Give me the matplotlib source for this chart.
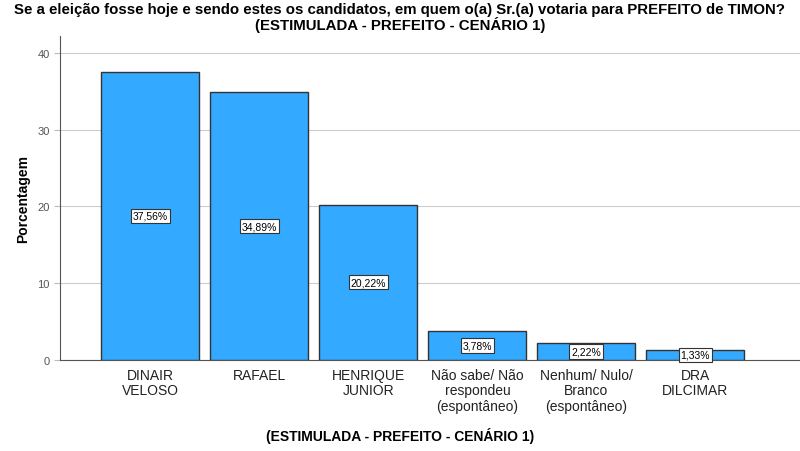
import numpy as np
import matplotlib
matplotlib.use('Agg')
import matplotlib.pyplot as plt

categories = ['DINAIR\nVELOSO', 'RAFAEL', 'HENRIQUE\nJUNIOR',
              'Não sabe/ Não\nrespondeu\n(espontâneo)',
              'Nenhum/ Nulo/\nBranco\n(espontâneo)', 'DRA\nDILCIMAR']
values = [37.56, 34.89, 20.22, 3.78, 2.22, 1.33]
labels = ['37,56%', '34,89%', '20,22%', '3,78%', '2,22%', '1,33%']
yticks = [0, 10, 20, 30, 40]

plt.rcParams['font.family'] = ['Liberation Sans', 'DejaVu Sans']

fig = plt.figure(figsize=(8, 4.52), dpi=100)
ax = fig.add_axes([0.075, 0.2013, 0.925, 0.717])

x = np.arange(len(categories))
ax.bar(x, values, width=0.9, color='#33aaff', edgecolor='#333333', linewidth=1, zorder=3)

# value boxes in the middle of each bar
for xi, v, lab in zip(x, values, labels):
    ax.text(xi, v / 2, lab, ha='center', va='center', fontsize=7.5, zorder=4,
            bbox=dict(boxstyle='square,pad=0.2', fc='white', ec='#333333', lw=0.8))

ax.set_xlim(-0.83, 5.96)
ax.set_ylim(0, 42.2)
ax.set_yticks(yticks)
ax.set_xticks(x)
ax.set_xticklabels(categories, fontsize=10, color='#222222', linespacing=1.1)
ax.tick_params(axis='x', length=0, pad=6)
ax.tick_params(axis='y', labelsize=8, colors='#555555', length=4, width=0.8, color='#bbbbbb')
ax.yaxis.grid(True, color='#cccccc', linewidth=0.8, zorder=0)
for s in ['top', 'right']:
    ax.spines[s].set_visible(False)
ax.spines['left'].set_color('#555555')
ax.spines['bottom'].set_color('#555555')

ax.set_ylabel('Porcentagem', fontsize=10, fontweight='bold', labelpad=5)
fig.text(0.5, 0.035, '(ESTIMULADA - PREFEITO - CENÁRIO 1)', ha='center', va='center',
         fontsize=10, fontweight='bold')
fig.text(0.5, 0.993, 'Se a eleição fosse hoje e sendo estes os candidatos, em quem o(a) Sr.(a) votaria para PREFEITO de TIMON?\n(ESTIMULADA - PREFEITO - CENÁRIO 1)',
         ha='center', va='top', fontsize=10.8, fontweight='bold', linespacing=0.95)

fig.savefig('out.png', dpi=100)
